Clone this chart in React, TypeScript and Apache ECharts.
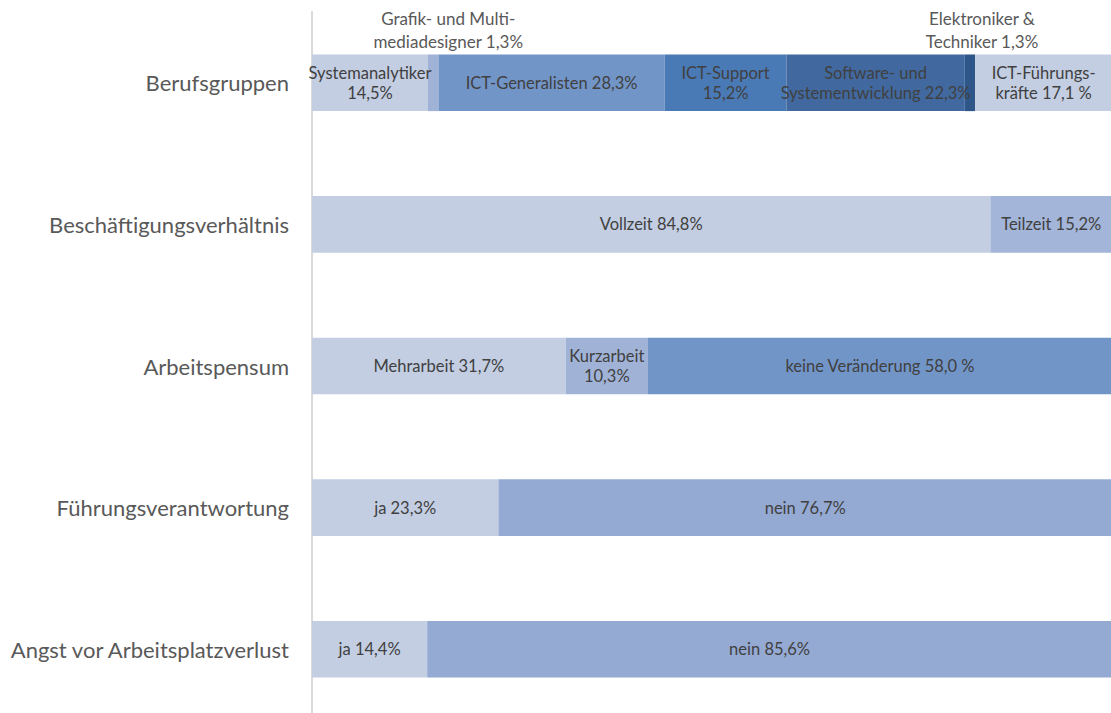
import React, { useEffect, useRef } from "react";
import * as echarts from "echarts";

const categories = [
  "Berufsgruppen",
  "Beschäftigungsverhältnis",
  "Arbeitspensum",
  "Führungsverantwortung",
  "Angst vor Arbeitsplatzverlust",
];

const berufsgruppenValues = [14.5, 1.3, 28.3, 15.2, 22.3, 1.3, 17.1];
const berufsgruppenLabels = [
  "Systemanalytiker\n14,5%",
  "Grafik- und Multi-\nmediadesigner 1,3%",
  "ICT-Generalisten 28,3%",
  "ICT-Support\n15,2%",
  "Software- und\nSystementwicklung 22,3%",
  "Elektroniker &\nTechniker 1,3%",
  "ICT-Führungs-\nkräfte 17,1 %",
];
const beschaeftigungValues = [84.8, 15.2];
const beschaeftigungLabels = ["Vollzeit 84,8%", "Teilzeit 15,2%"];
const pensumValues = [31.7, 10.3, 58.0];
const pensumLabels = ["Mehrarbeit 31,7%", "Kurzarbeit\n10,3%", "keine Veränderung 58,0 %"];
const fuehrungValues = [23.3, 76.7];
const fuehrungLabels = ["ja 23,3%", "nein 76,7%"];
const angstValues = [14.4, 85.6];
const angstLabels = ["ja 14,4%", "nein 85,6%"];

const berufsgruppenColors = ["#C3CEE3", "#A0B3D7", "#7295C8", "#4A7AB6", "#41699F", "#2F5689", "#C3CEE3"];
const beschaeftigungColors = ["#C3CEE3", "#A3B5D8"];
const pensumColors = ["#C3CEE3", "#A0B3D7", "#7295C8"];
const fuehrungColors = ["#C3CEE3", "#95AAD3"];
const angstColors = ["#C3CEE3", "#95AAD3"];

const rowValues = [berufsgruppenValues, beschaeftigungValues, pensumValues, fuehrungValues, angstValues];
const rowLabels = [berufsgruppenLabels, beschaeftigungLabels, pensumLabels, fuehrungLabels, angstLabels];
const rowColors = [berufsgruppenColors, beschaeftigungColors, pensumColors, fuehrungColors, angstColors];

// labels placed above the bar (row, segment) -> offset
const outsideLabels: Record<string, number[]> = {
  "0-1": [15, 0],
  "0-5": [12, 0],
};

const FONT = "Lato, 'Noto Sans', sans-serif";

export default function App() {
  const ref = useRef<HTMLDivElement>(null);
  useEffect(() => {
    if (!ref.current) return;
    const chart = echarts.init(ref.current, null, { renderer: "svg" });
    const maxSeg = Math.max(...rowValues.map((v) => v.length));
    const series: any[] = [];
    for (let s = 0; s < maxSeg; s++) {
      const data = rowValues.map((vals, r) => {
        if (s >= vals.length) return "-";
        const key = `${r}-${s}`;
        const outside = outsideLabels[key];
        return {
          value: vals[s],
          itemStyle: { color: rowColors[r][s] },
          label: {
            show: true,
            formatter: rowLabels[r][s],
            position: outside ? "top" : "inside",
            offset: outside || [0, 0],
            distance: 1,
            color: outside ? "#595959" : "#404040",
            fontSize: outside ? 17 : 16.5,
            lineHeight: outside ? 23 : 20,
            fontFamily: FONT,
            align: "center",
          },
        };
      });
      series.push({
        type: "bar",
        stack: "total",
        barWidth: "40%",
        data,
        silent: true,
      });
    }
    chart.setOption({
      animation: false,
      grid: { left: 312, right: 0, top: 12, bottom: 0, containLabel: false, outerBoundsMode: "none" },
      xAxis: { type: "value", min: 0, max: 100, show: false },
      yAxis: {
        type: "category",
        inverse: true,
        data: categories,
        axisTick: { show: false },
        axisLine: { show: true, lineStyle: { color: "#D9D9D9", width: 2 } },
        axisLabel: { color: "#595959", fontSize: 22, fontFamily: FONT, margin: 23 },
      },
      series,
    });
    return () => chart.dispose();
  }, []);
  return (
    <div
      ref={ref}
      style={{ position: "fixed", left: 0, top: 0, width: 1112, height: 720, background: "#fff" }}
    />
  );
}
